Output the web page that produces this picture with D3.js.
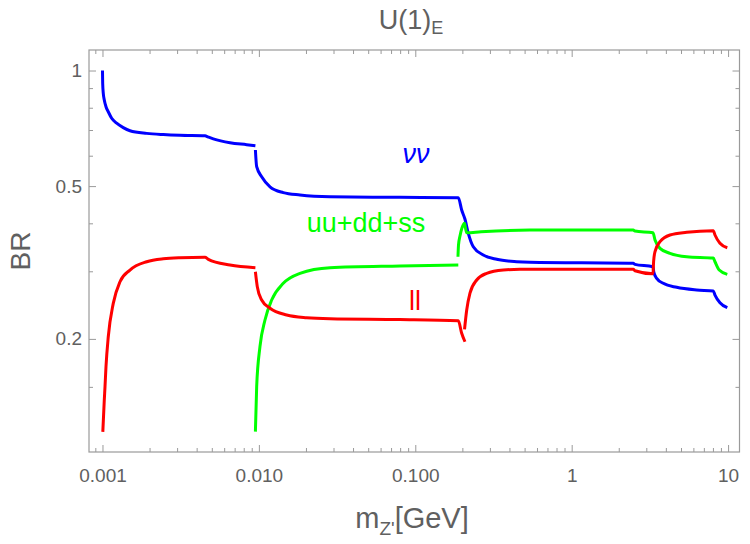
<!DOCTYPE html>
<html>
<head>
<meta charset="utf-8">
<script src="https://cdn.jsdelivr.net/npm/d3@7"></script>
<style>
  body { margin: 0; background: #fff; }
  text { font-family: "Liberation Sans", Arial, sans-serif; }
</style>
</head>
<body>
<svg id="chart" width="750" height="544"></svg>
<script>
// Branching ratios, as [m_Z' (GeV), BR] pairs, one array per drawn piece
const nuSeg1 = [[0.001, 1.0], [0.001003, 0.926], [0.001012, 0.872], [0.001027, 0.838], [0.001053, 0.805],
  [0.001089, 0.781], [0.001145, 0.751], [0.001232, 0.729], [0.001358, 0.710], [0.001499, 0.697],
  [0.001918, 0.686], [0.002447, 0.681], [0.00313, 0.678], [0.004523, 0.676], [0.00475, 0.671],
  [0.00511, 0.664], [0.006536, 0.6486], [0.008356, 0.641], [0.0095, 0.637]];
const nuSeg2 = [[0.0095, 0.621], [0.00968, 0.5616], [0.01042, 0.529], [0.01178, 0.498], [0.01432, 0.481],
  [0.01832, 0.474], [0.02849, 0.469], [0.0798, 0.4675], [0.1884, 0.4664], [0.198, 0.4331],
  [0.2079, 0.4098], [0.2183, 0.3767], [0.2349, 0.3476], [0.2721, 0.3308], [0.3315, 0.3223],
  [0.4449, 0.3177], [0.5412, 0.3166], [2.476, 0.3147], [2.539, 0.3128], [3.31, 0.3082],
  [3.35, 0.2985], [3.496, 0.2876], [3.853, 0.2791], [4.693, 0.2725], [6.299, 0.2682], [8.04, 0.2666],
  [8.246, 0.2602], [8.874, 0.2484], [9.885, 0.2411]];

const llSeg1 = [[0.001005, 0.1145], [0.001027, 0.1387], [0.001038, 0.1502], [0.001053, 0.1693],
  [0.001089, 0.2026], [0.001172, 0.2475], [0.001294, 0.2818], [0.001499, 0.3022], [0.001918, 0.3177],
  [0.002447, 0.3235], [0.00313, 0.3254], [0.004523, 0.3262], [0.00475, 0.3223], [0.006536, 0.3115],
  [0.0095, 0.3066]];
const llSeg2 = [[0.0095, 0.2992], [0.00977, 0.2735], [0.01042, 0.2525], [0.01178, 0.2403], [0.01506, 0.2308],
  [0.02021, 0.2271], [0.02849, 0.2257], [0.0798, 0.2247], [0.1884, 0.2231], [0.198, 0.2068],
  [0.2079, 0.1966]];
const llSeg3 = [[0.2065, 0.2118], [0.2132, 0.2378], [0.2237, 0.263], [0.247, 0.2847], [0.2861, 0.2963],
  [0.3653, 0.3022], [0.467, 0.3035], [2.476, 0.3035], [2.539, 0.3009], [3.31, 0.2955], [3.34, 0.318],
  [3.41, 0.3374], [3.67, 0.3582], [4.252, 0.3729], [5.437, 0.379], [8.04, 0.3827], [8.246, 0.3729],
  [8.874, 0.3548], [9.885, 0.3455]];

const qqSeg1 = [[0.0095, 0.1147], [0.00968, 0.1502], [0.01016, 0.1909], [0.01094, 0.224], [0.01207, 0.2525],
  [0.01432, 0.2791], [0.01832, 0.2963], [0.02849, 0.3066], [0.0798, 0.3097], [0.1884, 0.3115]];
const qqSeg2 = [[0.1875, 0.3274], [0.1889, 0.3511], [0.1931, 0.3707], [0.1988, 0.3889], [0.2063, 0.4],
  [0.2094, 0.3889], [0.2132, 0.3781], [0.2631, 0.3803], [0.5412, 0.3842], [2.476, 0.3842], [2.539, 0.3819],
  [3.31, 0.378], [3.41, 0.362], [3.67, 0.3443], [4.252, 0.3342], [5.437, 0.3274], [8.04, 0.3248],
  [8.246, 0.3177], [8.78, 0.3022], [9.885, 0.2945]];

const series = [
  { name: "νν", color: "#0000ff", segments: [nuSeg1, nuSeg2], label: [0.101, 0.574], italic: true },
  { name: "uu+dd+ss", color: "#00ff00", segments: [qqSeg1, qqSeg2], label: [0.0484, 0.380], italic: false },
  { name: "ll", color: "#ff0000", segments: [llSeg1, llSeg2, llSeg3], label: [0.0995, 0.2378], italic: false }
];

const xMajor = [0.001, 0.01, 0.1, 1, 10];
const xMajorLabels = ["0.001", "0.010", "0.100", "1", "10"];
const yMajor = [0.2, 0.5, 1];
const yMajorLabels = ["0.2", "0.5", "1"];
const yMinor = [0.15, 0.3, 0.4, 0.6, 0.7, 0.8, 0.9];

const width = 750, height = 544;
const margin = { left: 89, right: 739.5, top: 50, bottom: 452 };

const svg = d3.select("#chart");

const x = d3.scaleLog().domain([0.00082, 11.83]).range([margin.left, margin.right]);
const y = d3.scaleLog().domain([0.1015, 1.131]).range([margin.bottom, margin.top]);

// minor x ticks straight from the log scale, without the labelled decades
const xMinor = x.ticks().filter(d => !xMajor.some(m => Math.abs(m - d) / m < 1e-6));

const tickColor = "#9a9a9a";
const labelColor = "#606060";

function styleAxis(g) {
  g.select(".domain").remove();
  g.selectAll(".tick line").attr("stroke", tickColor);
  g.selectAll(".tick text").attr("fill", labelColor).style("font-size", "19px");
}

// bottom
svg.append("g").attr("transform", `translate(0,${margin.bottom})`)
  .call(d3.axisBottom(x).tickValues(xMinor).tickSize(-4).tickFormat(""))
  .call(styleAxis);
svg.append("g").attr("transform", `translate(0,${margin.bottom})`)
  .call(d3.axisBottom(x).tickValues(xMajor).tickSize(-7).tickPadding(17)
    .tickFormat((d, i) => xMajorLabels[i]))
  .call(styleAxis);
// top
svg.append("g").attr("transform", `translate(0,${margin.top})`)
  .call(d3.axisTop(x).tickValues(xMinor).tickSize(-4).tickFormat(""))
  .call(styleAxis);
svg.append("g").attr("transform", `translate(0,${margin.top})`)
  .call(d3.axisTop(x).tickValues(xMajor).tickSize(-7).tickFormat(""))
  .call(styleAxis);
// left
svg.append("g").attr("transform", `translate(${margin.left},0)`)
  .call(d3.axisLeft(y).tickValues(yMinor).tickSize(-4).tickFormat(""))
  .call(styleAxis);
svg.append("g").attr("transform", `translate(${margin.left},0)`)
  .call(d3.axisLeft(y).tickValues(yMajor).tickSize(-7).tickPadding(7)
    .tickFormat((d, i) => yMajorLabels[i]))
  .call(styleAxis);
// right
svg.append("g").attr("transform", `translate(${margin.right},0)`)
  .call(d3.axisRight(y).tickValues(yMinor).tickSize(-4).tickFormat(""))
  .call(styleAxis);
svg.append("g").attr("transform", `translate(${margin.right},0)`)
  .call(d3.axisRight(y).tickValues(yMajor).tickSize(-7).tickFormat(""))
  .call(styleAxis);

// frame
svg.append("rect")
  .attr("x", margin.left).attr("y", margin.top)
  .attr("width", margin.right - margin.left).attr("height", margin.bottom - margin.top)
  .attr("fill", "none").attr("stroke", tickColor).attr("stroke-width", 1.2);

const line = d3.line()
  .x(d => x(d[0]))
  .y(d => y(d[1]))
  .curve(d3.curveMonotoneX);

const plot = svg.append("g");
series.forEach(s => {
  s.segments.forEach(seg => {
    plot.append("path")
      .datum(seg)
      .attr("d", line)
      .attr("fill", "none")
      .attr("stroke", s.color)
      .attr("stroke-width", 3)
      .attr("stroke-linejoin", "round");
  });
  svg.append("text")
    .attr("x", x(s.label[0]))
    .attr("y", y(s.label[1]))
    .attr("text-anchor", "middle")
    .attr("fill", s.color)
    .style("font-size", "27px")
    .style("font-style", s.italic ? "italic" : "normal")
    .text(s.name);
});

// title
const title = svg.append("text")
  .attr("x", 411)
  .attr("y", 29)
  .attr("text-anchor", "middle")
  .attr("fill", labelColor)
  .style("font-size", "27px");
title.append("tspan").text("U(1)");
title.append("tspan").attr("dy", 5).style("font-size", "18px").text("E");

// axis labels
const xLabel = svg.append("text")
  .attr("x", 412)
  .attr("y", 528)
  .attr("text-anchor", "middle")
  .attr("fill", labelColor)
  .style("font-size", "29px");
xLabel.append("tspan").text("m");
xLabel.append("tspan").attr("dy", 7).style("font-size", "19px").text("Z'");
xLabel.append("tspan").attr("dy", -7).text("[GeV]");

svg.append("text")
  .attr("transform", `translate(30,${(margin.top + margin.bottom) / 2}) rotate(-90)`)
  .attr("text-anchor", "middle")
  .attr("fill", labelColor)
  .style("font-size", "28px")
  .text("BR");
</script>
</body>
</html>
